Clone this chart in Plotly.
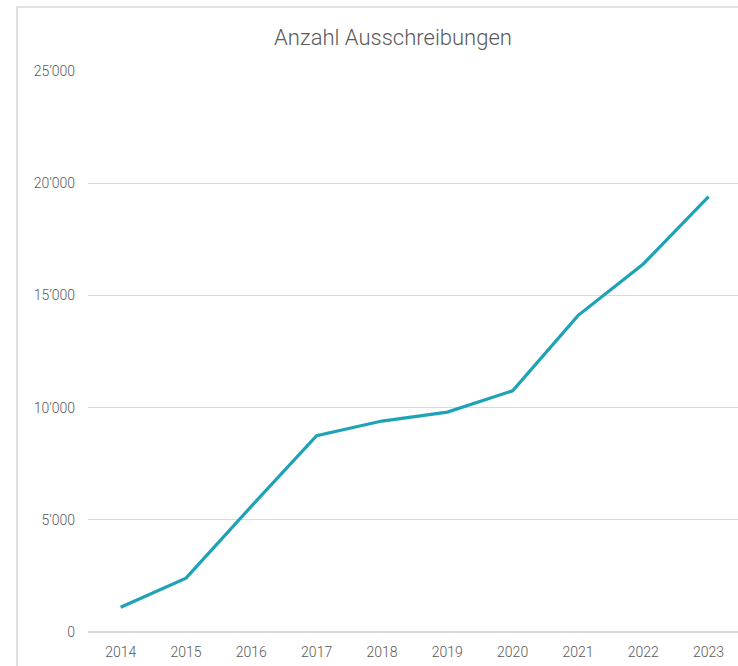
import plotly.graph_objects as go

# Yearly count of tenders
years = ["2014", "2015", "2016", "2017", "2018", "2019", "2020", "2021", "2022", "2023"]
tenders = [1100, 2400, 5600, 8750, 9400, 9800, 10750, 14100, 16400, 19400]

y_ticks = [0, 5000, 10000, 15000, 20000, 25000]
y_tick_labels = ["0", "5\u2019000", "10\u2019000", "15\u2019000", "20\u2019000", "25\u2019000"]

W, H = 738, 666
ML, MR, MT, MB = 88, 0, 71, 34

font_family = "Roboto, sans-serif"
text_color = "#595959"

fig = go.Figure(
    go.Scatter(
        x=years,
        y=tenders,
        mode="lines",
        line=dict(color="#1EA3B6", width=3.2),
        hoverinfo="x+y",
    )
)

fig.update_layout(
    width=W,
    height=H,
    margin=dict(l=ML, r=MR, t=MT, b=MB),
    paper_bgcolor="white",
    plot_bgcolor="white",
    showlegend=False,
    font=dict(family=font_family, color=text_color, size=14, weight=300),
    title=dict(
        text="Anzahl Ausschreibungen",
        x=393 / W,
        xanchor="center",
        y=1 - 37 / H,
        yanchor="middle",
        font=dict(size=22, family=font_family, color=text_color, weight=300),
    ),
    xaxis=dict(
        type="category",
        range=[-0.5, 9.45],
        showgrid=False,
        showline=False,
        zeroline=False,
        ticks="",
        ticklabelstandoff=10,
        tickfont=dict(size=14, color=text_color, weight=300),
    ),
    yaxis=dict(
        range=[0, 25000],
        tickvals=y_ticks,
        ticktext=y_tick_labels,
        showgrid=True,
        gridcolor="#D9D9D9",
        gridwidth=1,
        zeroline=True,
        zerolinecolor="#D9D9D9",
        zerolinewidth=1.5,
        showline=False,
        ticks="",
        ticklabelstandoff=12,
        tickfont=dict(size=14, color=text_color, weight=300),
    ),
)

# Outer chart frame
plot_w = W - ML - MR
plot_h = H - MT - MB
fig.add_shape(
    type="rect",
    xref="paper",
    yref="paper",
    x0=(17 - ML) / plot_w,
    x1=(W + 5 - ML) / plot_w,
    y0=-(MB + 5) / plot_h,
    y1=1 + (MT - 7) / plot_h,
    line=dict(color="#D9D9D9", width=1.5),
    fillcolor="rgba(0,0,0,0)",
    layer="below",
)

fig.write_html("out.html")
